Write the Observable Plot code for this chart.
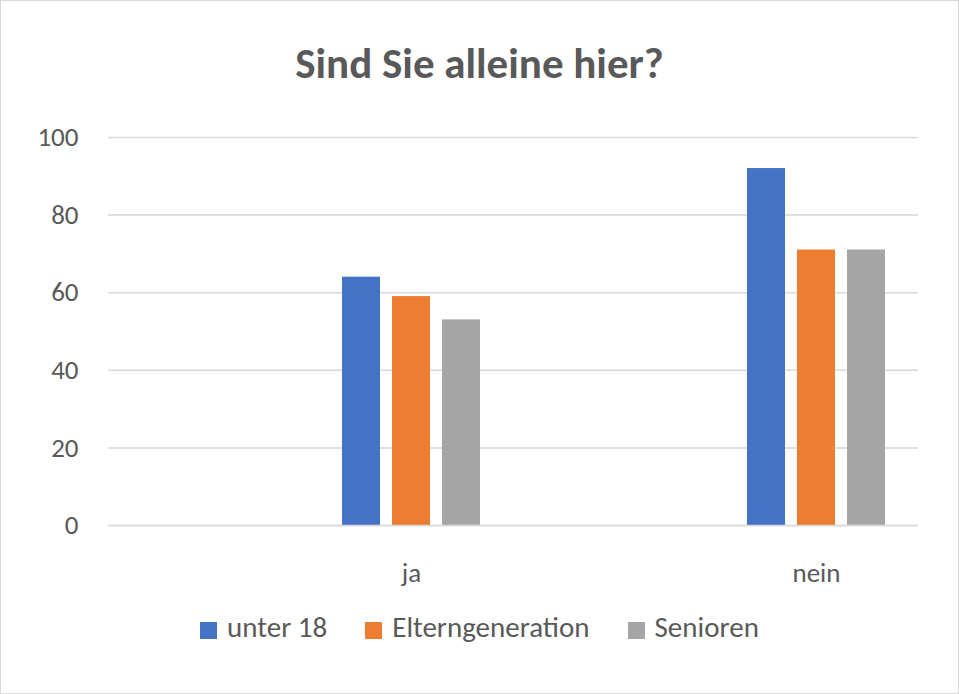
<!DOCTYPE html>
<html><head><meta charset="utf-8">
<script src="https://cdn.jsdelivr.net/npm/d3@7"></script>
<script src="https://cdn.jsdelivr.net/npm/@observablehq/plot@0.6"></script>
<style>
body{margin:0;font-family:Calibri,Carlito,"Open Sans",sans-serif;}
#wrap{width:957px;height:692px;border:1px solid #d9d9d9;background:#fff;position:relative;}
#title{height:110px;line-height:126px;text-align:center;font-size:43px;font-weight:bold;color:#595959;}
#legend{display:flex;justify-content:center;gap:38px;font-size:29px;color:#595959;margin-top:18px;}
#legend span.k{display:inline-block;width:17px;height:17px;margin-right:10px;vertical-align:middle;}
</style></head><body>
<div id="wrap"><div id="title">Sind Sie alleine hier?</div><div id="chart"></div><div id="legend"></div></div>
<script>
const categories = ["ja","nein"];
const series = ["unter 18","Elterngeneration","Senioren"];
const colors = ["#4472C4","#ED7D31","#A5A5A5"];
const ja = [64,59,53];
const nein = [92,71,71];
const yTicks = [0,20,40,60,80,100];
const data = [];
series.forEach((s,i)=>{data.push({cat:"ja",s,v:ja[i]});data.push({cat:"nein",s,v:nein[i]});});
const xDomain = ["p0","p1","p2","p3","p4",...series,"p8"];
const chart = Plot.plot({
  width:957,height:480,marginLeft:107,marginRight:40,marginTop:26,marginBottom:66,
  style:{fontFamily:"Calibri,Carlito,'Open Sans',sans-serif",fontSize:"26px",color:"#595959"},
  fx:{domain:categories,padding:0,axis:null},
  x:{domain:xDomain,paddingInner:0.25,paddingOuter:-0.4,axis:null},
  y:{domain:[0,100],ticks:yTicks,label:null,grid:true},
  color:{domain:series,range:colors},
  marks:[
    Plot.gridY(yTicks,{stroke:"#d9d9d9",strokeOpacity:1,strokeWidth:1.5}),
    Plot.axisY(yTicks,{tickSize:0,tickPadding:30,fontSize:27,fill:"#595959"}),
    Plot.barY(data,{fx:"cat",x:"s",y:"v",fill:"s"}),
    Plot.ruleY([0],{stroke:"#d9d9d9",strokeWidth:1.5}),
    Plot.text(categories,{fx:d=>d,x:()=>"Elterngeneration",frameAnchor:"bottom",dy:56,text:d=>d,fontSize:27,fill:"#595959"})
  ]
});
document.getElementById("chart").appendChild(chart);
const lg=document.getElementById("legend");
series.forEach((s,i)=>{const d=document.createElement("div");d.innerHTML=`<span class="k" style="background:${colors[i]}"></span>${s}`;lg.appendChild(d);});
</script></body></html>
